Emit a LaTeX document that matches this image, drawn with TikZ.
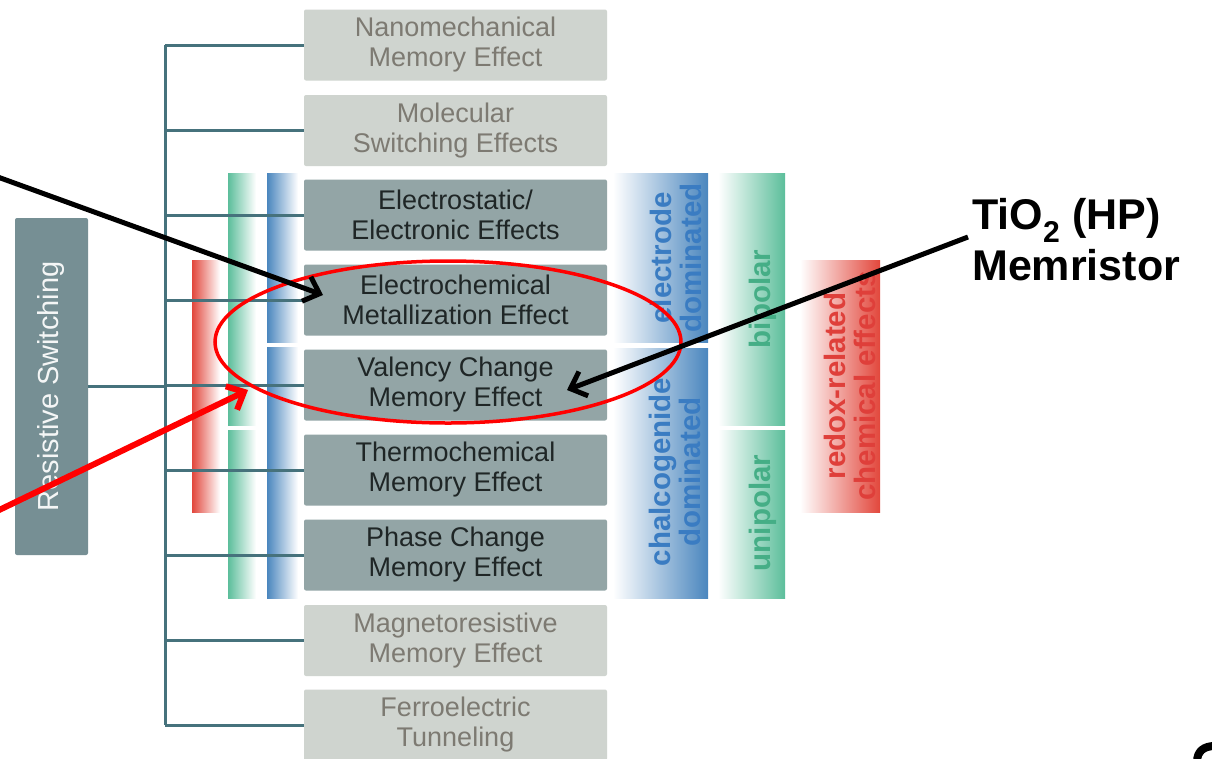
\documentclass[tikz,border=0pt]{standalone}
\usepackage{fontspec}
\setmainfont{Liberation Sans}
\usetikzlibrary{arrows.meta}
\definecolor{trunkc}{HTML}{46727C}
\definecolor{actfill}{HTML}{93A5A6}
\definecolor{acttext}{HTML}{1F2626}
\definecolor{inafill}{HTML}{CFD4CF}
\definecolor{inatext}{HTML}{7D7A72}
\definecolor{rsfill}{HTML}{768F94}
\definecolor{bluec}{HTML}{4A86BE}
\definecolor{bluet}{HTML}{3A7CC2}
\definecolor{greenc}{HTML}{5CBE9B}
\definecolor{greent}{HTML}{45AE86}
\definecolor{redc}{HTML}{E2473C}
\definecolor{redt}{HTML}{DF3F3A}
\definecolor{orangec}{HTML}{F0955F}
\definecolor{markred}{HTML}{FF0000}
\begin{document}
\begin{tikzpicture}[x=1pt,y=-1pt,
  box/.style={rectangle, rounded corners=2pt, minimum width=303pt, minimum height=71pt,
    inner sep=0pt, align=center, font=\fontsize{27}{30}\selectfont},
  actbox/.style={box, fill=actfill, text=acttext},
  inabox/.style={box, fill=inafill, text=inatext},
  branch/.style={draw=trunkc, line width=3pt},
  sidelabel/.style={rotate=90, align=center, font=\bfseries\fontsize{29.5}{30}\selectfont},
  blackarrow/.style={draw=black, line width=5pt, -{Straight Barb[length=14pt,width=26pt]}},
  redarrow/.style={draw=markred, line width=6pt, -{Straight Barb[length=14pt,width=26pt]}},
  ring/.style={draw=markred, line width=3.5pt}
]
\useasboundingbox (0,0) rectangle (1212,758);
\fill[white] (0,0) rectangle (1212,758);

% gradient bars on the left
\shade[left color=redc, middle color=orangec!70, right color=white] (192,260) rectangle (220,512);
\shade[left color=greenc, right color=white] (228,173) rectangle (256,425);
\shade[left color=greenc, right color=white] (228,430) rectangle (256,598);
\shade[left color=bluec, right color=white] (267,173) rectangle (298,342);
\shade[left color=bluec, right color=white] (267,347) rectangle (298,598);

% gradient label bars on the right
\shade[left color=white, right color=bluec] (613,173) rectangle (708,342);
\shade[left color=white, right color=bluec] (613,348) rectangle (708,598);
\shade[left color=white, right color=greenc] (718,173) rectangle (785,425);
\shade[left color=white, right color=greenc] (718,430) rectangle (785,598);
\shade[left color=white, right color=redc] (800,260) rectangle (880,512);

\node[sidelabel, text=bluet] (lab1) at (676,258) {electrode\\dominated};
\node[sidelabel, text=bluet] (lab2) at (675,472) {chalcogenide\\dominated};
\node[sidelabel, text=greent] (lab3) at (763,299) {bipolar};
\node[sidelabel, text=greent] (lab4) at (763,513) {unipolar};
\node[sidelabel, text=redt] (lab5) at (850,386) {redox-related\\chemical effects};

% root box
\node[rectangle, rounded corners=2pt, fill=rsfill, minimum width=73pt, minimum height=337pt, inner sep=0pt] (rs) at (51.5,386.5) {};
\node[rotate=90, text=white!92!rsfill, font=\fontsize{29}{30}\selectfont] (rslab) at (rs.center) {Resistive Switching};

% boxes
\node[inabox] (b1) at (455.5,45) {Nanomechanical\\Memory Effect};
\node[inabox] (b2) at (455.5,130.5) {Molecular\\Switching Effects};
\node[actbox] (b3) at (455.5,215) {Electrostatic/\\Electronic Effects};
\node[actbox] (b4) at (455.5,300) {Electrochemical\\Metallization Effect};
\node[actbox] (b5) at (455.5,385) {Valency Change\\Memory Effect};
\node[actbox] (b6) at (455.5,470) {Thermochemical\\Memory Effect};
\node[actbox] (b7) at (455.5,555) {Phase Change\\Memory Effect};
\node[inabox] (b8) at (455.5,640.5) {Magnetoresistive\\Memory Effect};
\node[inabox] (b9) at (455.5,725) {Ferroelectric\\Tunneling};

% tree
\coordinate (t1) at (165,45);
\coordinate (t2) at (165,130.5);
\coordinate (t3) at (165,215);
\coordinate (t4) at (165,300);
\coordinate (t5) at (165,385);
\coordinate (t6) at (165,470);
\coordinate (t7) at (165,555);
\coordinate (t8) at (165,640.5);
\coordinate (t9) at (165,725);
\coordinate (tr) at (165,386.5);
\draw[branch] (t1) -- (t9);
\draw[branch] (rs.east |- tr) -- (tr);
\foreach \i in {1,...,9} { \draw[branch] (t\i) -- (b\i.west); }

% red ring
\draw[ring] (448,342) ellipse [x radius=233pt, y radius=81pt];

% annotation label
\node[anchor=west, align=left, font=\bfseries\fontsize{43}{51}\selectfont, inner sep=0pt] (tio) at (972,240)
  {TiO\textsubscript{2} (HP)\\Memristor};

% arrows
\coordinate (a1s) at (-5,176);
\coordinate (a1e) at (323,295);
\draw[blackarrow] (a1s) -- (a1e);
\coordinate (a2s) at (968,237);
\coordinate (a2e) at (567,390);
\draw[blackarrow] (a2s) -- (a2e);
\coordinate (a3s) at (-5,512);
\coordinate (a3e) at (248,390);
\draw[redarrow] (a3s) -- (a3e);

% partial glyph stroke at lower right corner
\coordinate (g1) at (1197,762);
\coordinate (g2) at (1215,746);
\draw[line width=8pt] (g1) .. controls (1197,751) and (1204,746) .. (g2);
\end{tikzpicture}
\end{document}
